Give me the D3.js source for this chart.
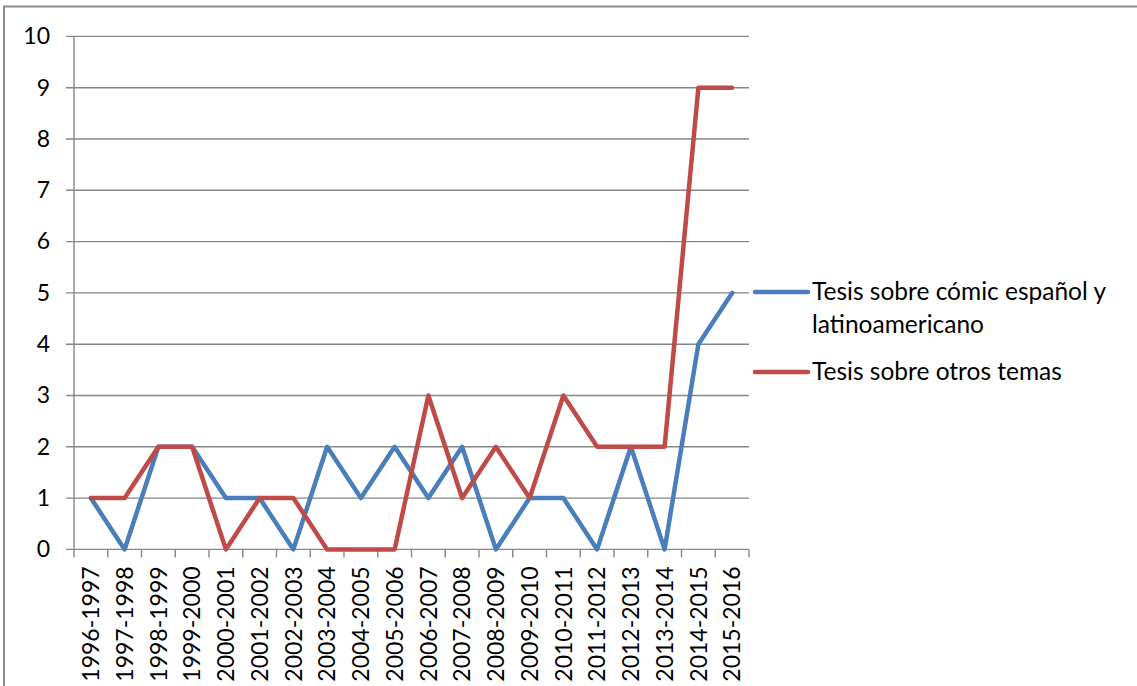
<!DOCTYPE html>
<html>
<head>
<meta charset="utf-8">
<script src="https://cdn.jsdelivr.net/npm/d3@7"></script>
<style>
  html, body { margin: 0; padding: 0; background: #fff; overflow: hidden; }
  svg { display: block; }
  text { font-family: Lato, "Open Sans", sans-serif; fill: #000; }
</style>
</head>
<body>
<svg id="chart" width="1137" height="686"></svg>
<script>
// Academic years
const categories = [
  "1996-1997", "1997-1998", "1998-1999", "1999-2000", "2000-2001",
  "2001-2002", "2002-2003", "2003-2004", "2004-2005", "2005-2006",
  "2006-2007", "2007-2008", "2008-2009", "2009-2010", "2010-2011",
  "2011-2012", "2012-2013", "2013-2014", "2014-2015", "2015-2016"
];

// Theses per year
const comicEspanol = [1, 0, 2, 2, 1, 1, 0, 2, 1, 2, 1, 2, 0, 1, 1, 0, 2, 0, 4, 5];
const otrosTemas   = [1, 1, 2, 2, 0, 1, 1, 0, 0, 0, 3, 1, 2, 1, 3, 2, 2, 2, 9, 9];

const yTicks = [0, 1, 2, 3, 4, 5, 6, 7, 8, 9, 10];

const seriesColors = ["#4A7EBB", "#BE4B48"];

const svg = d3.select("#chart");

// outer chart frame
svg.append("rect")
  .attr("x", 4).attr("y", 6.5)
  .attr("width", 1200).attr("height", 800)
  .attr("fill", "none")
  .attr("stroke", "#888")
  .attr("stroke-width", 2);

const plot = { left: 74, right: 749, top: 36.4, bottom: 549.4 };

const x = d3.scaleBand()
  .domain(categories)
  .range([plot.left, plot.right]);

const y = d3.scaleLinear()
  .domain([0, 10])
  .range([plot.bottom, plot.top]);

const gridColor = "#868686";
const axisFont = 23;

// horizontal gridlines with left tick stubs
svg.append("g").selectAll("line")
  .data(yTicks)
  .join("line")
  .attr("x1", plot.left - 8)
  .attr("x2", plot.right)
  .attr("y1", d => y(d))
  .attr("y2", d => y(d))
  .attr("stroke", gridColor)
  .attr("stroke-width", 1.4);

// y axis labels
const yAxis = d3.axisLeft(y).tickValues(yTicks).tickSize(0).tickPadding(0).tickFormat(d3.format("d"));
const gy = svg.append("g")
  .attr("transform", `translate(${plot.left - 24},0)`)
  .call(yAxis);
gy.select(".domain").remove();
gy.selectAll("text")
  .attr("font-size", axisFont)
  .attr("font-family", "Lato, sans-serif")
  .attr("fill", "#000");

// vertical axis line
svg.append("line")
  .attr("x1", plot.left).attr("x2", plot.left)
  .attr("y1", plot.top).attr("y2", plot.bottom)
  .attr("stroke", gridColor).attr("stroke-width", 1.4);

// x axis ticks at band boundaries
const boundaries = categories.map(c => x(c)).concat([plot.right]);
svg.append("g").selectAll("line")
  .data(boundaries)
  .join("line")
  .attr("x1", d => d).attr("x2", d => d)
  .attr("y1", plot.bottom).attr("y2", plot.bottom + 8)
  .attr("stroke", gridColor).attr("stroke-width", 1.4);

// x axis labels, rotated
const xAxis = d3.axisBottom(x).tickSize(0).tickPadding(0);
const gx = svg.append("g")
  .attr("transform", `translate(0,${plot.bottom})`)
  .call(xAxis);
gx.select(".domain").remove();
gx.selectAll("text")
  .attr("font-size", axisFont)
  .attr("font-family", "Lato, sans-serif")
  .attr("fill", "#000")
  .attr("text-anchor", "end")
  .attr("transform", "translate(0,17) rotate(-90)")
  .attr("x", 0)
  .attr("y", 0)
  .attr("dy", "0.36em");

// series lines
const line = d3.line()
  .x((d, i) => x(categories[i]) + x.bandwidth() / 2)
  .y(d => y(d));

[comicEspanol, otrosTemas].forEach((vals, k) => {
  svg.append("path")
    .datum(vals)
    .attr("fill", "none")
    .attr("stroke", seriesColors[k])
    .attr("stroke-width", 4.5)
    .attr("stroke-linejoin", "round")
    .attr("stroke-linecap", "round")
    .attr("d", line);
});

// legend
const legend = svg.append("g");
const legendItems = [
  { lineY: 292, lines: ["Tesis sobre cómic español y", "latinoamericano"] },
  { lineY: 372, lines: ["Tesis sobre otros temas"] }
];
legendItems.forEach((item, k) => {
  legend.append("line")
    .attr("x1", 755).attr("x2", 808)
    .attr("y1", item.lineY).attr("y2", item.lineY)
    .attr("stroke", seriesColors[k])
    .attr("stroke-width", 4.5)
    .attr("stroke-linecap", "round");
  item.lines.forEach((t, j) => {
    legend.append("text")
      .attr("x", 812)
      .attr("y", item.lineY + 8 + j * 33)
      .attr("font-size", 24.5)
      .text(t);
  });
});
</script>
</body>
</html>
